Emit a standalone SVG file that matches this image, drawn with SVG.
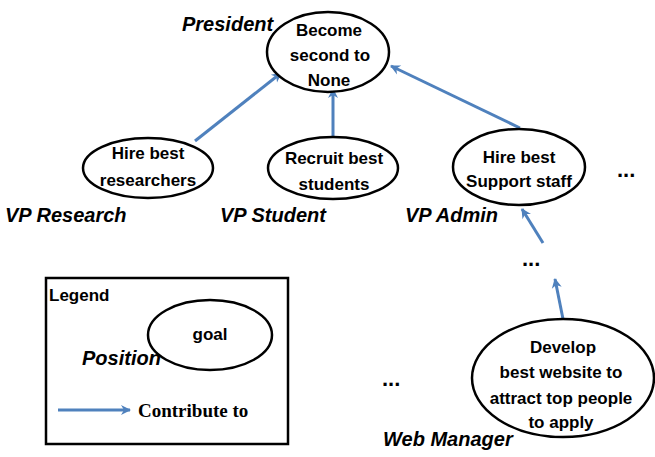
<svg xmlns="http://www.w3.org/2000/svg" width="655" height="457" viewBox="0 0 655 457">
  <defs>
    <marker id="head" viewBox="0 0 12 12" refX="10" refY="6" markerWidth="12" markerHeight="12" markerUnits="userSpaceOnUse" orient="auto">
      <path d="M1,1 L11,6 L1,11 L4,6 Z" fill="#4f81bd"/>
    </marker>
  </defs>
  <style>
    .goal { fill: #ffffff; stroke: #000000; stroke-width: 2.5; }
    .gt { font-family: "Liberation Sans", Arial, sans-serif; font-weight: bold; font-size: 17px; text-anchor: middle; fill: #000; }
    .pos { font-family: "Liberation Sans", Arial, sans-serif; font-style: italic; font-weight: bold; font-size: 20px; fill: #000; }
    .dots { font-family: "Liberation Sans", Arial, sans-serif; font-weight: bold; font-size: 22px; fill: #000; }
    .link { stroke: #4f81bd; stroke-width: 3; fill: none; marker-end: url(#head); }
  </style>
  <rect width="655" height="457" fill="#ffffff"/>

  <!-- contribution links -->
  <g id="connectors">
    <line class="link" x1="195" y1="141" x2="281" y2="73"/>
    <line class="link" x1="333" y1="137" x2="333" y2="89"/>
    <line class="link" x1="520" y1="128" x2="391" y2="66"/>
    <line class="link" x1="543" y1="243" x2="522" y2="209"/>
    <line class="link" x1="563" y1="319" x2="555" y2="279"/>
  </g>

  <g id="president">
    <ellipse class="goal" cx="328" cy="52" rx="61" ry="40"/>
    <text class="gt" x="329" y="36">Become</text>
    <text class="gt" x="330" y="61">second to</text>
    <text class="gt" x="329" y="86">None</text>
    <text class="pos" x="182" y="31">President</text>
  </g>

  <g id="vp-research">
    <ellipse class="goal" cx="148" cy="168" rx="65" ry="30"/>
    <text class="gt" x="148" y="159">Hire best</text>
    <text class="gt" x="148" y="186">researchers</text>
    <text class="pos" x="5" y="222">VP Research</text>
  </g>

  <g id="vp-student">
    <ellipse class="goal" cx="333" cy="168" rx="65" ry="31"/>
    <text class="gt" x="334" y="164">Recruit best</text>
    <text class="gt" x="334" y="190">students</text>
    <text class="pos" x="220" y="222">VP Student</text>
  </g>

  <g id="vp-admin">
    <ellipse class="goal" cx="519" cy="167" rx="66" ry="38"/>
    <text class="gt" x="519" y="163">Hire best</text>
    <text class="gt" x="519" y="187">Support staff</text>
    <text class="pos" x="405" y="222">VP Admin</text>
  </g>

  <g id="more-vps">
    <text class="dots" x="617" y="177">...</text>
  </g>

  <g id="intermediate">
    <text class="dots" x="522" y="266">...</text>
  </g>

  <g id="web-manager">
    <ellipse class="goal" cx="563" cy="378" rx="91" ry="59"/>
    <text class="gt" x="563" y="353">Develop</text>
    <text class="gt" x="561" y="378">best website to</text>
    <text class="gt" x="561" y="404">attract top people</text>
    <text class="gt" x="561" y="428">to apply</text>
    <text class="pos" x="383" y="446" font-size="22">Web Manager</text>
  </g>

  <g id="other-roles">
    <text class="dots" x="382" y="386">...</text>
  </g>

  <g id="legend">
    <rect x="46" y="278" width="242" height="166" fill="none" stroke="#000" stroke-width="2.5"/>
    <text x="49" y="301" font-family="Liberation Sans, Arial, sans-serif" font-weight="bold" font-size="17" fill="#000">Legend</text>
    <ellipse class="goal" cx="210" cy="335" rx="62" ry="35"/>
    <text class="gt" x="210" y="340">goal</text>
    <text class="pos" x="82" y="365" font-size="19">Position</text>
    <line class="link" x1="58" y1="410" x2="130" y2="410"/>
    <text x="138" y="417" font-family="Liberation Serif, Times New Roman, serif" font-weight="bold" font-size="19" fill="#000">Contribute to</text>
  </g>
</svg>
